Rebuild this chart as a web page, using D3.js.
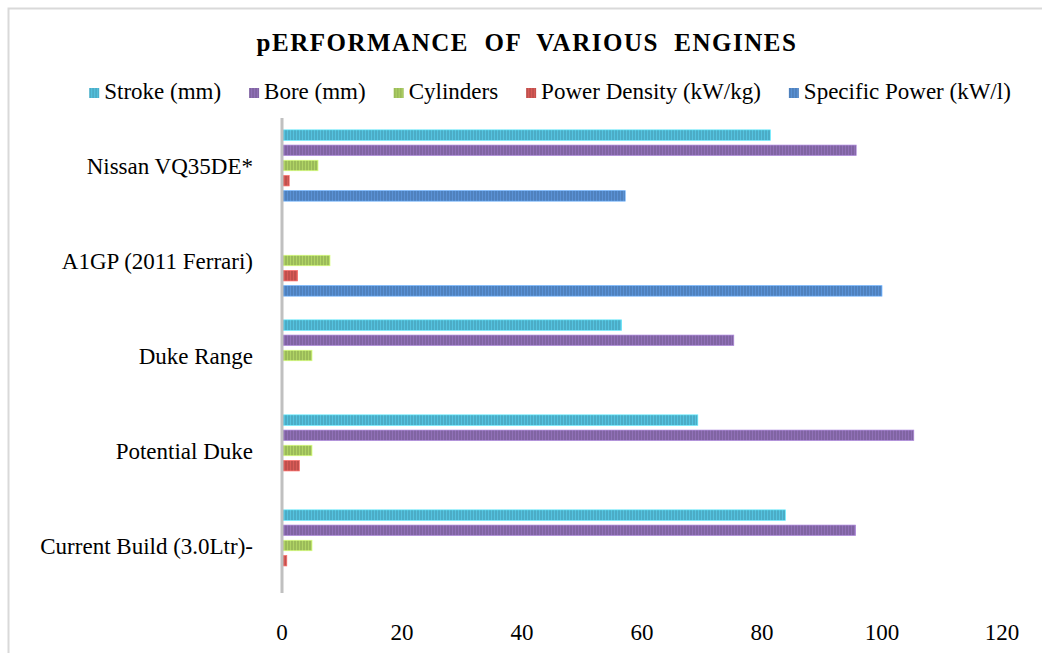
<!DOCTYPE html>
<html>
<head>
<meta charset="utf-8">
<script src="https://cdn.jsdelivr.net/npm/d3@7"></script>
<style>
  html, body { margin: 0; padding: 0; background: #fff; }
  svg { display: block; }
  text { font-family: "Liberation Serif", "Times New Roman", serif; fill: #000; }
</style>
</head>
<body>
<svg id="chart" width="1042" height="653"></svg>
<script>
// ---- data ----
const categories = ["Nissan VQ35DE*", "A1GP (2011 Ferrari)", "Duke Range", "Potential Duke", "Current Build (3.0Ltr)-"];
const seriesNames = ["Stroke (mm)", "Bore (mm)", "Cylinders", "Power Density (kW/kg)", "Specific Power (kW/l)"];
const stroke        = [81.4, null, 56.6, 69.3, 83.9];
const bore          = [95.7, null, 75.3, 105.3, 95.6];
const cylinders     = [6, 8, 5, 5, 5];
const powerDensity  = [1.2, 2.6, null, 2.9, 0.8];
const specificPower = [57.2, 100, null, null, null];
const xTicks = [0, 20, 40, 60, 80, 100, 120];
const colors = ["#4BACC6", "#8064A2", "#9BBB59", "#C0504D", "#4F81BD"];
const titleText = "pERFORMANCE  OF  VARIOUS  ENGINES";

const seriesValues = [stroke, bore, cylinders, powerDensity, specificPower];

const svg = d3.select("#chart");

// border
svg.append("rect").attr("x", 8.5).attr("y", 8.5).attr("width", 1045).attr("height", 660)
  .attr("fill", "#fff").attr("stroke", "#d9d9d9").attr("stroke-width", 2);

// patterns (subtle vertical stripes)
const defs = svg.append("defs");
colors.forEach((c, i) => {
  const p = defs.append("pattern").attr("id", "pat" + i)
    .attr("patternUnits", "userSpaceOnUse").attr("width", 3).attr("height", 10);
  p.append("rect").attr("width", 3).attr("height", 10).attr("fill", c);
  p.append("rect").attr("x", 2).attr("width", 1).attr("height", 10)
    .attr("fill", d3.color(c).brighter(0.35));
});

// scales
const x = d3.scaleLinear().domain([0, 120]).range([282, 1002]);
const y0 = d3.scaleBand().domain(categories).range([118, 593]).padding(0);
const y1 = d3.scaleBand().domain(seriesNames).range([0, y0.bandwidth()])
  .paddingInner(0.31).paddingOuter(0.78);

// bars
const bars = [];
categories.forEach((cat, ci) => {
  seriesNames.forEach((s, si) => {
    const v = seriesValues[si][ci];
    if (v != null) bars.push({cat, s, si, v});
  });
});
svg.append("g").selectAll("rect").data(bars).join("rect")
  .attr("x", x(0) + 1)
  .attr("y", d => y0(d.cat) + y1(d.s))
  .attr("width", d => x(d.v) - x(0) - 1)
  .attr("height", y1.bandwidth())
  .attr("fill", d => `url(#pat${d.si})`)
  .attr("stroke", d => d3.color(colors[d.si]).brighter(0.9))
  .attr("stroke-width", 0.7);

// y axis line
svg.append("line").attr("x1", x(0)).attr("x2", x(0)).attr("y1", 118).attr("y2", 593)
  .attr("stroke", "#c0c0c0").attr("stroke-width", 3);

// category labels
svg.append("g").selectAll("text").data(categories).join("text")
  .attr("x", 253)
  .attr("y", d => y0(d) + y0.bandwidth() / 2 + 8)
  .attr("text-anchor", "end")
  .attr("font-size", 23)
  .text(d => d);

// x tick labels
svg.append("g").selectAll("text").data(xTicks).join("text")
  .attr("x", d => x(d))
  .attr("y", 640)
  .attr("text-anchor", "middle")
  .attr("font-size", 23)
  .text(d => d);

// title
svg.append("text").attr("x", 527).attr("y", 51)
  .attr("text-anchor", "middle").attr("font-size", 25).attr("font-weight", "bold")
  .attr("letter-spacing", 1.5)
  .style("white-space", "pre")
  .attr("xml:space", "preserve")
  .text(titleText);

// legend
const lg = svg.append("g");
let cx = 0;
const gap = 28;
seriesNames.forEach((s, i) => {
  const g = lg.append("g");
  g.append("rect").attr("x", 0).attr("y", -11).attr("width", 10).attr("height", 10)
    .attr("fill", `url(#pat${i})`);
  const t = g.append("text").attr("x", 15).attr("y", 0).attr("font-size", 23).text(s);
  const w = 15 + t.node().getComputedTextLength();
  g.attr("transform", `translate(${cx},0)`);
  cx += w + gap;
});
const totalW = cx - gap;
lg.attr("transform", `translate(${550 - totalW / 2},99)`);
</script>
</body>
</html>
